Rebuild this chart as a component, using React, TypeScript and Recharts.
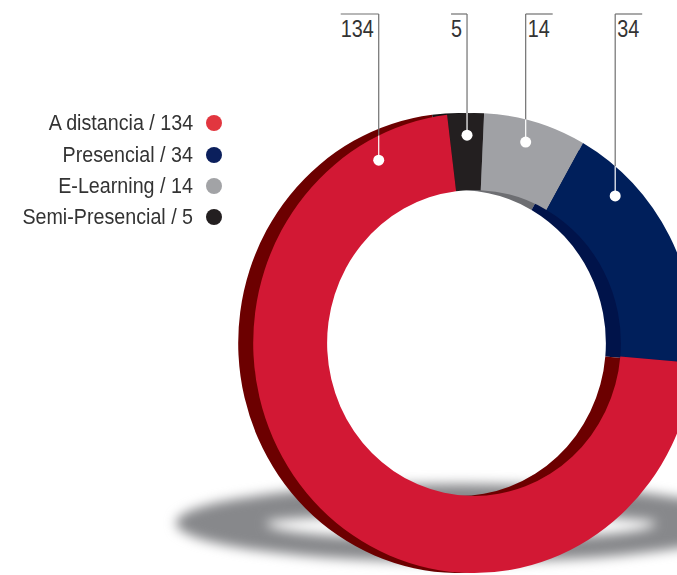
import type { ReactElement } from "react";
import { Cell, Pie, PieChart } from "recharts";

// data, in the ring's clockwise order starting just left of 12 o'clock
const categories = ["Semi-Presencial", "E-Learning", "Presencial", "A distancia"];
const values = [5, 14, 34, 134];
const faceColors = ["#231f20", "#a0a1a5", "#001f5b", "#d21834"];
const sideColors = ["#151314", "#6d6e72", "#00134a", "#6c0000"];
const legendColors = ["#231f20", "#a2a3a6", "#0b1f5c", "#e2363f"];
// where each leader line meets the ring, degrees clockwise from 12 o'clock
const leaderAngles = [-2, 15, 45, -28.5];

const rows = categories.map((name, i) => ({ name, value: values[i] }));
const legendRows = rows
  .map((row, i) => ({ ...row, color: legendColors[i] }))
  .sort((a, b) => b.value - a.value);

const W = 677;
const H = 575;
const CX = 474;
const CY = 343;
const R_OUT = 230;
const R_IN = 153;
const SX = 0.96; // ring is seen slightly from the side
const DEPTH = 15;
const START = 97;
const FONT = '"Liberation Sans", Arial, sans-serif';
const NARROW = 0.86; // fake a condensed face

const css = `
body { margin: 0; }
.face-pie .recharts-sector { transform-origin: ${CX}px ${CY}px; transform: scaleX(${SX}); }
.side-pie .recharts-sector { transform-origin: ${CX - DEPTH}px ${CY}px; transform: scaleX(${SX}); }
`;

type LabelProps = { cx: number; cy: number; index: number; value: number };

function renderLeader({ cx, cy, index, value }: LabelProps): ReactElement {
  const a = (leaderAngles[index] * Math.PI) / 180;
  const r = 208;
  const dxReal = r * Math.sin(a);
  const x = cx + dxReal * SX;
  const y = cy - r * Math.cos(a);
  const edgeY = cy - Math.sqrt(R_OUT * R_OUT - dxReal * dxReal);
  const text = String(value);
  const tw = text.length * 11;
  const left = leaderAngles[index] < 0;
  const topY = 14;
  const tx = left ? x - 5 : x + 2;

  return (
    <g key={`leader-${index}`}>
      <line x1={x} y1={topY} x2={x} y2={edgeY} stroke="#707070" strokeWidth={1.2} />
      <line x1={x} y1={edgeY} x2={x} y2={y} stroke="#ffffff" strokeWidth={1.2} />
      <line
        x1={left ? x - tw - 5 : x}
        y1={topY}
        x2={left ? x : x + tw + 5}
        y2={topY}
        stroke="#707070"
        strokeWidth={1.2}
      />
      <text
        x={0}
        y={0}
        transform={`translate(${tx} 37) scale(${NARROW} 1)`}
        textAnchor={left ? "end" : "start"}
        fill="#333333"
        fontSize={23}
        fontFamily={FONT}
      >
        {text}
      </text>
      <circle cx={x} cy={y} r={5.5} fill="#ffffff" />
    </g>
  );
}

function LegendList(): ReactElement {
  return (
    <div
      style={{
        position: "absolute",
        left: 0,
        top: 107.6,
        width: 222,
        fontFamily: FONT,
        fontSize: 22.5,
        color: "#333333"
      }}
    >
      {legendRows.map((row) => (
        <div
          key={row.name}
          style={{ height: 31.4, display: "flex", justifyContent: "flex-end", alignItems: "center" }}
        >
          <span
            style={{
              whiteSpace: "nowrap",
              display: "inline-block",
              transform: "scaleX(0.875)",
              transformOrigin: "right center"
            }}
          >
            {`${row.name} / ${row.value}`}
          </span>
          <span
            style={{
              width: 16,
              height: 16,
              borderRadius: "50%",
              background: row.color,
              marginLeft: 13,
              flex: "none"
            }}
          />
        </div>
      ))}
    </div>
  );
}

export default function App(): ReactElement {
  return (
    <div style={{ position: "relative", width: W, height: H, overflow: "hidden", background: "#ffffff" }}>
      <style>{css}</style>
      {/* floor shadow */}
      <div
        style={{
          position: "absolute",
          left: 176,
          top: 484,
          width: 570,
          height: 78,
          boxSizing: "border-box",
          borderRadius: "50%",
          borderStyle: "solid",
          borderColor: "#87888b",
          borderWidth: "31px 90px 22px 90px",
          filter: "blur(6px)"
        }}
      />
      <div style={{ position: "absolute", left: 0, top: 0 }}>
        <PieChart width={W} height={H} margin={{ top: 0, right: 0, bottom: 0, left: 0 }}>
          <Pie
            className="side-pie"
            data={rows}
            dataKey="value"
            nameKey="name"
            cx={CX - DEPTH}
            cy={CY}
            innerRadius={R_IN}
            outerRadius={R_OUT}
            startAngle={START}
            endAngle={START - 360}
            stroke="none"
            label={false}
            labelLine={false}
            isAnimationActive={false}
          >
            {rows.map((row, i) => (
              <Cell key={row.name} fill={sideColors[i]} />
            ))}
          </Pie>
          <Pie
            className="face-pie"
            data={rows}
            dataKey="value"
            nameKey="name"
            cx={CX}
            cy={CY}
            innerRadius={R_IN}
            outerRadius={R_OUT}
            startAngle={START}
            endAngle={START - 360}
            stroke="none"
            label={renderLeader}
            labelLine={false}
            isAnimationActive={false}
          >
            {rows.map((row, i) => (
              <Cell key={row.name} fill={faceColors[i]} />
            ))}
          </Pie>
        </PieChart>
      </div>
      <LegendList />
    </div>
  );
}
